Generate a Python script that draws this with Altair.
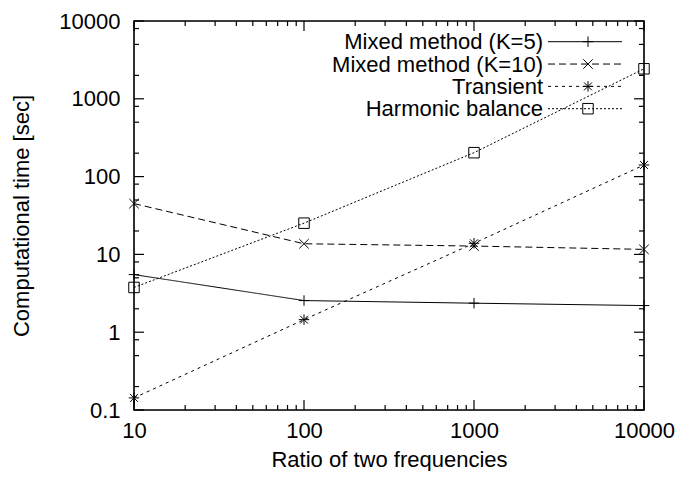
import altair as alt
import pandas as pd

# ---- data ----
ratios = [10, 100, 1000, 10000]
series_names = ["Mixed method (K=5)", "Mixed method (K=10)", "Transient", "Harmonic balance"]
mixed_k5 = [5.5, 2.55, 2.36, 2.2]
mixed_k10 = [45, 13.7, 12.8, 11.6]
transient = [0.143, 1.45, 13.9, 141]
harmonic = [3.76, 25.2, 203, 2430]

# axis tick positions
y_major = [0.1, 1, 10, 100, 1000, 10000]
y_minor = [0.2, 0.5, 0.8, 2, 5, 8, 20, 50, 80, 200, 500, 800, 2000, 5000, 8000]
x_major = [10, 100, 1000, 10000]
x_minor = [20, 30, 40, 50, 60, 70, 80, 90,
           200, 300, 400, 500, 600, 700, 800, 900,
           2000, 3000, 4000, 5000, 6000, 7000, 8000, 9000]

W, H = 510, 389
FONT = "Liberation Sans"
FS = 22

rows = []
for name, vals in zip(series_names, [mixed_k5, mixed_k10, transient, harmonic]):
    for r, v in zip(ratios, vals):
        rows.append({"ratio": r, "time": v, "series": name})
df = pd.DataFrame(rows)

plus = "M-1,0L1,0M0,-1L0,1"
xcross = "M-0.9,-0.9L0.9,0.9M-0.9,0.9L0.9,-0.9"
star = "M-1,0L1,0M0,-1L0,1M-0.75,-0.75L0.75,0.75M-0.75,0.75L0.75,-0.75"
dash_scale = alt.Scale(domain=series_names, range=[[1, 0], [7, 4], [3, 4], [2, 2]])
shape_scale = alt.Scale(domain=series_names, range=[plus, xcross, star, "square"])

xscale = alt.Scale(type="log", domain=[10, 10000], nice=False)
yscale = alt.Scale(type="log", domain=[0.1, 10000], nice=False)

x_axis = alt.Axis(values=x_major, format="~g", title="Ratio of two frequencies",
                  grid=False, domain=False, ticks=False, tickSize=0,
                  labelPadding=10, labelFont=FONT, labelFontSize=FS,
                  labelColor="black", labelFontWeight="normal",
                  titleFont=FONT, titleFontSize=FS, titleColor="black",
                  titleFontWeight="normal", titleY=56,
                  titleBaseline="alphabetic", labelFlush=False)
y_axis = alt.Axis(values=y_major, format="~g", title="Computational time [sec]",
                  grid=False, domain=False, ticks=False, tickSize=0,
                  labelPadding=14, labelFont=FONT, labelFontSize=FS,
                  labelColor="black", titleFont=FONT, titleFontSize=FS,
                  titleColor="black", titleFontWeight="normal",
                  titleAngle=270, titleX=-106, titleY=H / 2,
                  titleAlign="center", titleBaseline="alphabetic",
                  labelFlush=False)

base = alt.Chart(df)
lines = base.mark_line(color="black", strokeWidth=1, clip=True).encode(
    x=alt.X("ratio:Q", scale=xscale, axis=x_axis),
    y=alt.Y("time:Q", scale=yscale, axis=y_axis),
    strokeDash=alt.StrokeDash("series:N", scale=dash_scale, legend=None),
    detail="series:N",
)
points = base.mark_point(color="black", filled=False, size=110, strokeWidth=1, opacity=1).encode(
    x=alt.X("ratio:Q", scale=xscale, axis=x_axis),
    y=alt.Y("time:Q", scale=yscale, axis=y_axis),
    shape=alt.Shape("series:N", scale=shape_scale, legend=None),
)

ymaj_df = pd.DataFrame({"ratio": [10] * len(y_major), "time": y_major})
ymin_df = pd.DataFrame({"ratio": [10] * len(y_minor), "time": y_minor})
xmaj_df = pd.DataFrame({"ratio": x_major, "time": [1] * len(x_major)})
xmin_df = pd.DataFrame({"ratio": x_minor, "time": [1] * len(x_minor)})


def yticks(d, length):
    left = alt.Chart(d).mark_rule(color="black", strokeWidth=1.2).encode(
        y=alt.Y("time:Q", scale=yscale, axis=y_axis), x=alt.value(0), x2=alt.value(length))
    right = alt.Chart(d).mark_rule(color="black", strokeWidth=1.2).encode(
        y=alt.Y("time:Q", scale=yscale, axis=y_axis), x=alt.value(W - length), x2=alt.value(W))
    return [left, right]


def xticks(d, length):
    bottom = alt.Chart(d).mark_rule(color="black", strokeWidth=1.2).encode(
        x=alt.X("ratio:Q", scale=xscale, axis=x_axis), y=alt.value(H), y2=alt.value(H - length))
    top = alt.Chart(d).mark_rule(color="black", strokeWidth=1.2).encode(
        x=alt.X("ratio:Q", scale=xscale, axis=x_axis), y=alt.value(0), y2=alt.value(length))
    return [bottom, top]


tick_layers = yticks(ymaj_df, 10) + yticks(ymin_df, 5) + xticks(xmaj_df, 10) + xticks(xmin_df, 5)

# plot border
border = alt.Chart(pd.DataFrame({"k": [0]})).mark_rect(
    fill=None, stroke="black", strokeWidth=1.6).encode(
    x=alt.value(0), x2=alt.value(W), y=alt.value(0), y2=alt.value(H))

main = alt.layer(lines, points, *tick_layers)

# ---- legend (inside, top right) ----
leg_df = pd.DataFrame({"series": series_names})
leg_y = alt.Y("series:N", sort=series_names,
              scale=alt.Scale(type="point", domain=series_names, range=[20.7, 87.7], padding=0),
              axis=None)
leg_text = alt.Chart(leg_df).mark_text(align="right", baseline="alphabetic", dy=7.5,
                                       font=FONT, fontSize=FS, color="black").encode(
    x=alt.value(409), y=leg_y, text="series:N")
leg_line = alt.Chart(leg_df).mark_rule(color="black", strokeWidth=1).encode(
    x=alt.value(414), x2=alt.value(488), y=leg_y,
    strokeDash=alt.StrokeDash("series:N", scale=dash_scale, legend=None))
leg_pts = alt.Chart(leg_df).mark_point(color="black", filled=False, size=110, strokeWidth=1, opacity=1).encode(
    x=alt.value(454), y=leg_y,
    shape=alt.Shape("series:N", scale=shape_scale, legend=None))
legend = alt.layer(leg_text, leg_line, leg_pts, border)

chart = alt.layer(main, legend).resolve_scale(y="independent").properties(
    width=W, height=H,
    autosize=alt.AutoSizeParams(type="none"),
    padding={"left": 126, "top": 13, "right": 31, "bottom": 61},
).configure_view(stroke=None).configure(background="white")

chart.save("out.html", embed_options={"renderer": "svg", "actions": False})
